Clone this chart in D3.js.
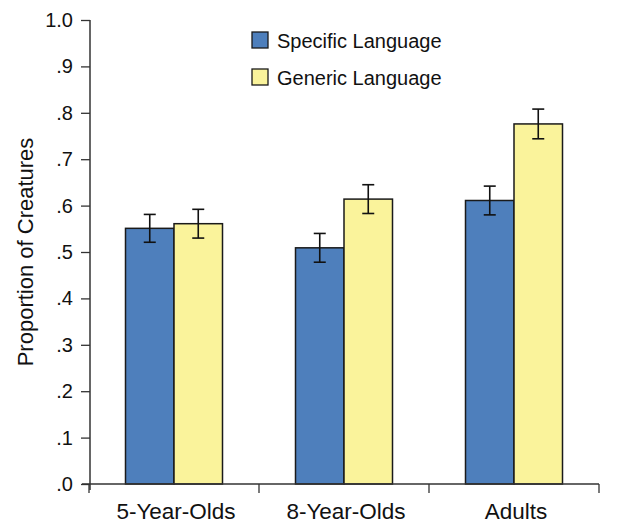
<!DOCTYPE html>
<html>
<head>
<meta charset="utf-8">
<script src="https://cdn.jsdelivr.net/npm/d3@7"></script>
<style>
  html, body { margin: 0; padding: 0; background: #fff; }
  svg { display: block; }
  text { font-family: "Liberation Sans Narrow", "Arial Narrow", "Liberation Sans", Arial, sans-serif; fill: #111; }
</style>
</head>
<body>
<svg id="chart" width="634" height="525"></svg>
<script>
// Groups on the x axis
const categories = ["5-Year-Olds", "8-Year-Olds", "Adults"];
// Series names and mean proportions
const seriesNames = ["Specific Language", "Generic Language"];
const specificValues = [0.551, 0.509, 0.611];
const genericValues = [0.561, 0.614, 0.776];
// Standard error half-widths
const specificErrors = [0.030, 0.031, 0.031];
const genericErrors = [0.031, 0.031, 0.032];
// Y tick values and labels
const yTickValues = [0, 0.1, 0.2, 0.3, 0.4, 0.5, 0.6, 0.7, 0.8, 0.9, 1.0];
const yTickLabels = [".0", ".1", ".2", ".3", ".4", ".5", ".6", ".7", ".8", ".9", "1.0"];

const colors = ["#4e7fbc", "#faf39b"];

const svg = d3.select("#chart");

const y = d3.scaleLinear().domain([0, 1]).range([484, 20]);
const x0 = d3.scaleBand().domain(categories).range([89, 599]);
const x1 = d3.scaleBand().domain(seriesNames).range([0, 97]);

const rows = categories.map((c, i) => ({
  category: c,
  bars: [
    { series: seriesNames[0], value: specificValues[i], err: specificErrors[i] },
    { series: seriesNames[1], value: genericValues[i], err: genericErrors[i] }
  ]
}));

// Bars
const groups = svg.append("g").selectAll("g")
  .data(rows).join("g")
  .attr("transform", d => `translate(${x0(d.category) + x0.bandwidth() / 2 - x1.range()[1] / 2},0)`);

groups.selectAll("rect")
  .data(d => d.bars).join("rect")
  .attr("x", d => x1(d.series))
  .attr("y", d => y(d.value))
  .attr("width", x1.bandwidth())
  .attr("height", d => y(0) - y(d.value))
  .attr("fill", (d, i) => colors[i])
  .attr("stroke", "#1a1a1a")
  .attr("stroke-width", 1.5);

// Error bars
const eb = groups.selectAll("g.err")
  .data(d => d.bars).join("g")
  .attr("class", "err")
  .attr("transform", d => `translate(${x1(d.series) + x1.bandwidth() / 2},0)`);
eb.append("line")
  .attr("y1", d => y(d.value + d.err)).attr("y2", d => y(d.value - d.err))
  .attr("stroke", "#111").attr("stroke-width", 1.6);
eb.append("line")
  .attr("x1", -6).attr("x2", 6)
  .attr("y1", d => y(d.value + d.err)).attr("y2", d => y(d.value + d.err))
  .attr("stroke", "#111").attr("stroke-width", 1.6);
eb.append("line")
  .attr("x1", -6).attr("x2", 6)
  .attr("y1", d => y(d.value - d.err)).attr("y2", d => y(d.value - d.err))
  .attr("stroke", "#111").attr("stroke-width", 1.6);

// Y axis
const yAxis = svg.append("g")
  .attr("transform", "translate(90,0)")
  .call(d3.axisLeft(y).tickValues(yTickValues)
    .tickFormat((d, i) => yTickLabels[i]).tickSize(9).tickPadding(8));
yAxis.select(".domain").attr("d", "M0,20V490").attr("stroke", "#333").attr("stroke-width", 1.5);
yAxis.selectAll(".tick line").attr("stroke", "#333").attr("stroke-width", 1.3);
yAxis.selectAll(".tick text").attr("font-size", 20).attr("fill", "#111")
  .style("font-family", "'Liberation Sans Narrow', 'Arial Narrow', 'Liberation Sans', Arial, sans-serif");

// X axis with ticks at the group boundaries
const xAxis = svg.append("g").attr("transform", "translate(0,484)");
xAxis.append("line").attr("x1", 82).attr("x2", 599).attr("stroke", "#333").attr("stroke-width", 1.5);
const bounds = categories.map(c => x0(c)).concat([x0.range()[1]]);
xAxis.selectAll("line.tk").data(bounds).join("line")
  .attr("class", "tk")
  .attr("x1", d => d).attr("x2", d => d)
  .attr("y1", 0).attr("y2", 9)
  .attr("stroke", "#333").attr("stroke-width", 1.3);
xAxis.selectAll("text").data(categories).join("text")
  .attr("x", d => x0(d) + x0.bandwidth() / 2 + 2)
  .attr("y", 35)
  .attr("text-anchor", "middle")
  .attr("font-size", 22.5)
  .text(d => d);

// Y axis title
svg.append("text")
  .attr("transform", "translate(33,252) rotate(-90)")
  .attr("text-anchor", "middle")
  .attr("font-size", 22)
  .text("Proportion of Creatures");

// Legend
const legend = svg.append("g").selectAll("g")
  .data(seriesNames).join("g")
  .attr("transform", (d, i) => `translate(252,${32 + i * 37})`);
legend.append("rect")
  .attr("width", 16).attr("height", 16)
  .attr("fill", (d, i) => colors[i])
  .attr("stroke", "#1a1a1a").attr("stroke-width", 1.3);
legend.append("text")
  .attr("x", 25).attr("y", 16)
  .attr("font-size", 20)
  .text(d => d);
</script>
</body>
</html>
